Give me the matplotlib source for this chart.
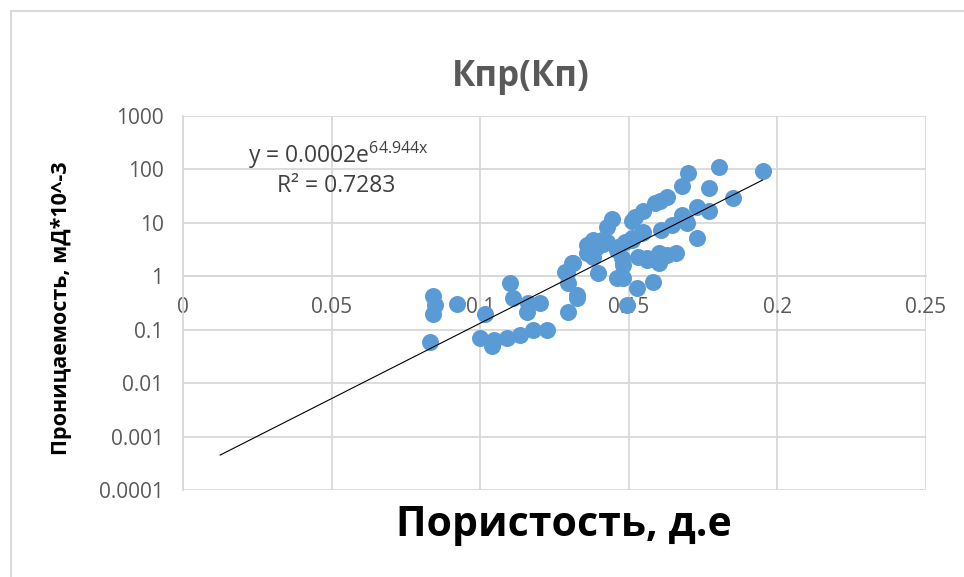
import matplotlib
matplotlib.use('Agg')
import matplotlib.pyplot as plt
from matplotlib.lines import Line2D
import numpy as np

plt.rcParams['font.family'] = ['Open Sans', 'DejaVu Sans']
plt.rcParams['mathtext.default'] = 'regular'

# porosity (fraction) and permeability (mD*10^-3)
porosity = [
    0.0841, 0.0848, 0.0841, 0.0922, 0.0831, 0.1016, 0.1100, 0.1110, 0.0999, 0.1040,
    0.1045, 0.1090, 0.1134, 0.1177, 0.1224, 0.1157, 0.1200, 0.1160,
    0.1443, 0.1426, 0.1369, 0.1393, 0.1359, 0.1413, 0.1379, 0.1312, 0.1292, 0.1295,
    0.1325, 0.1295, 0.1396, 0.1463, 0.1460, 0.1480, 0.1527, 0.1493, 0.1580, 0.1600,
    0.1630, 0.1477, 0.1480, 0.1376, 0.1359, 0.1379, 0.1426, 0.1460, 0.1510, 0.1544,
    0.1560, 0.1600, 0.1660, 0.1285, 0.1310, 0.1325,
    0.1804, 0.1950, 0.1700, 0.1680, 0.1770, 0.1850, 0.1770, 0.1730, 0.1680, 0.1695,
    0.1730, 0.1630, 0.1604, 0.1588, 0.1547, 0.1510, 0.1688, 0.1645, 0.1610, 0.1547,
    0.1510, 0.1487, 0.1604, 0.1560, 0.1530, 0.1460, 0.1410, 0.1520,
]
permeability = [
    0.42, 0.29, 0.20, 0.30, 0.06, 0.20, 0.74, 0.40, 0.07, 0.05,
    0.065, 0.07, 0.08, 0.10, 0.10, 0.21, 0.31, 0.31,
    12.0, 8.2, 4.1, 3.5, 2.7, 4.1, 2.3, 1.75, 1.14, 0.74,
    0.40, 0.21, 1.14, 3.5, 0.92, 0.92, 0.60, 0.29, 0.77, 1.8,
    2.5, 2.2, 1.6, 2.5, 3.8, 4.7, 4.3, 3.3, 4.7, 6.4,
    2.2, 2.7, 2.7, 1.19, 1.75, 0.44,
    110.0, 92.0, 85.0, 48.0, 44.0, 29.0, 17.0, 19.5, 14.0, 10.0,
    5.1, 30.0, 26.0, 24.0, 17.0, 11.0, 12.0, 9.0, 7.2, 6.6,
    5.1, 4.3, 2.2, 2.0, 2.3, 3.1, 4.7, 13.0,
]

# exponential trendline y = a * exp(b * x)
trend_a = 0.0002
trend_b = 64.944
trend_r2 = 0.7283
trend_start, trend_end = 0.0125, 0.195

x_ticks = [0, 0.05, 0.1, 0.15, 0.2, 0.25]
x_tick_labels = ['0', '0.05', '0.1', '0.15', '0.2', '0.25']
y_ticks = [0.0001, 0.001, 0.01, 0.1, 1, 10, 100, 1000]
y_tick_labels = ['0.0001', '0.001', '0.01', '0.1', '1', '10', '100', '1000']

grid_color = '#d9d9d9'
label_color = '#595959'

fig = plt.figure(figsize=(9.64, 5.77), dpi=100)
ax = fig.add_axes([183 / 964, 87 / 577, 743 / 964, 374 / 577])

ax.set_yscale('log')
ax.set_xlim(0, 0.25)
ax.set_ylim(0.0001, 1000)

ax.set_xticks(x_ticks)
ax.set_xticklabels(x_tick_labels)
ax.set_yticks(y_ticks)
ax.set_yticklabels(y_tick_labels)
ax.yaxis.set_minor_locator(matplotlib.ticker.NullLocator())
ax.tick_params(axis='both', length=0, labelsize=15, labelcolor=label_color)
ax.tick_params(axis='x', pad=15)
ax.tick_params(axis='y', pad=14)

ax.grid(True, color=grid_color, linewidth=1.3)
ax.set_axisbelow(True)
for side in ['top', 'right']:
    ax.spines[side].set_visible(False)
ax.spines['left'].set_color(grid_color)
ax.spines['left'].set_linewidth(1.3)
ax.spines['bottom'].set_position(('data', 1))
ax.spines['bottom'].set_color(grid_color)
ax.spines['bottom'].set_linewidth(1.3)

ax.scatter(porosity, permeability, s=150, color='#5b9bd5', linewidths=0, zorder=3)

tx = np.linspace(trend_start, trend_end, 100)
ax.plot(tx, trend_a * np.exp(trend_b * tx), color='black', linewidth=0.8, zorder=4)

fig.text(338 / 964, 1 - 155 / 577, r'y = 0.0002e$^{64.944x}$', ha='center', va='center',
         fontsize=16.5, color='#404040')
fig.text(336 / 964, 1 - 186 / 577, 'R² = {}'.format(trend_r2), ha='center', va='center',
         fontsize=16.5, color='#404040')

fig.text(521 / 964, 1 - 77 / 577, 'Кпр(Кп)', ha='center', va='center',
         fontsize=25, fontweight='bold', color=label_color)
fig.text(564 / 964, 1 - 526 / 577, 'Пористость, д.е', ha='center', va='center',
         fontsize=29.5, fontweight='bold', color='black')
fig.text(62 / 964, 1 - 308 / 577, 'Проницаемость, мД*10^-3', ha='center', va='center',
         rotation=90, fontsize=15.5, fontweight='bold', color='black')

# chart area border (only top and left edges are visible in the crop)
fig.add_artist(Line2D([11 / 964, 1], [1 - 11 / 577, 1 - 11 / 577], color=grid_color, linewidth=1.5))
fig.add_artist(Line2D([11 / 964, 11 / 964], [0, 1 - 11 / 577], color=grid_color, linewidth=1.5))

fig.savefig('out.png', dpi=100)
